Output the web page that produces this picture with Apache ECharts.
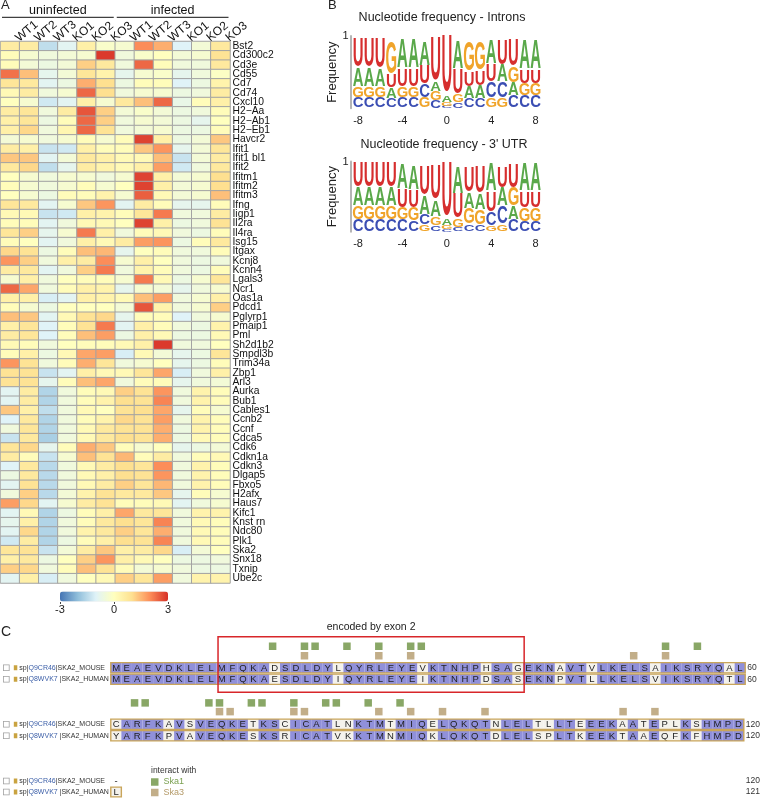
<!DOCTYPE html>
<html><head><meta charset="utf-8">
<script src="https://cdn.jsdelivr.net/npm/echarts@6/dist/echarts.min.js"></script>
<style>html,body{margin:0;padding:0;background:#fff}#c{width:763px;height:798px}</style>
</head><body><div id="c"></div>
<script>
// ---------- Panel A data ----------
const samples = ['WT1','WT2','WT3','KO1','KO2','KO3','WT1','WT2','WT3','KO1','KO2','KO3'];
const groups = [{name:'uninfected', from:0, to:5}, {name:'infected', from:6, to:11}];
const genes = ['Bst2','Cd300c2','Cd3e','Cd55','Cd7','Cd74','Cxcl10','H2\u2212Aa','H2\u2212Ab1','H2\u2212Eb1','Havcr2','Ifit1','Ifit1 bl1','Ifit2','Ifitm1','Ifitm2','Ifitm3','Ifng','Iigp1','Il2ra','Il4ra','Isg15','Itgax','Kcnj8','Kcnn4','Lgals3','Ncr1','Oas1a','Pdcd1','Pglyrp1','Pmaip1','Pml','Sh2d1b2','Smpdl3b','Trim34a','Zbp1','Arl3','Aurka','Bub1','Cables1','Ccnb2','Ccnf','Cdca5','Cdk6','Cdkn1a','Cdkn3','Dlgap5','Fbxo5','H2afx','Haus7','Kifc1','Knst rn','Ndc80','Plk1','Ska2','Snx18','Txnip','Ube2c'];
const zscores = [
 [0.6,0.6,-1.4,-0.9,0.5,-0.2,-0.3,2.0,1.6,-1.0,-0.4,0.7],
 [0.1,-0.3,-0.5,-0.4,-0.3,2.9,-0.5,-0.2,0.0,-0.4,-0.3,0.9],
 [0.1,-0.4,-0.6,-0.4,1.2,0.7,-0.5,2.4,0.1,-0.5,-0.5,0.7],
 [2.3,1.4,-0.8,-0.4,0.8,0.4,-0.8,-0.3,-0.2,-0.8,-0.5,-0.1],
 [0.8,0.7,-0.9,-0.6,1.6,1.0,-0.6,0.1,0.1,-1.0,-0.6,0.4],
 [0.2,0.6,-0.5,-0.3,2.4,1.0,-0.5,-0.3,-0.3,-0.6,-0.5,0.6],
 [0.0,-0.3,-1.2,-0.9,0.5,-0.3,0.7,1.4,2.4,-0.7,0.1,0.5],
 [0.6,0.8,-0.5,0.6,2.6,1.2,-0.4,-0.2,-0.4,-0.6,-0.5,0.1],
 [0.5,0.8,-0.6,0.1,2.4,1.2,-0.5,-0.3,-0.4,-0.6,-0.8,0.0],
 [0.5,1.1,-0.5,0.3,2.4,0.9,-0.5,-0.4,-0.3,-0.6,-0.6,0.1],
 [-0.4,-0.3,-0.5,-0.3,0.1,-0.3,0.1,2.8,0.5,-0.6,-0.4,1.3],
 [0.6,0.5,-1.3,-1.2,0.5,0.1,0.1,1.3,1.9,-0.8,-0.4,0.8],
 [1.3,1.3,-0.9,-0.4,0.7,0.5,0.2,0.2,1.4,-1.3,-0.4,0.6],
 [0.7,1.1,-1.4,-0.8,0.6,0.4,0.2,0.5,1.8,-1.2,-0.5,0.7],
 [0.0,-0.3,-0.5,-0.3,-0.3,-0.5,-0.3,2.8,0.5,-0.4,-0.3,1.0],
 [0.1,-0.3,-0.5,-0.3,0.1,-0.3,0.0,2.8,0.5,-0.4,-0.3,1.0],
 [0.0,-0.3,-0.6,0.1,0.1,0.4,-0.3,2.5,0.2,-0.4,-0.3,1.4],
 [0.8,0.7,-0.9,-0.3,1.3,1.9,-0.9,0.6,0.1,-0.8,-0.8,0.1],
 [0.2,0.2,-1.3,-1.2,0.5,0.4,0.1,0.8,2.2,-0.5,-0.5,0.6],
 [0.1,0.1,-0.9,-0.5,0.2,0.2,0.0,2.8,0.5,-0.6,-0.5,0.9],
 [0.8,1.2,-0.8,-0.3,2.2,0.5,-0.5,0.1,0.2,-0.5,-0.6,0.1],
 [0.1,0.0,-0.9,-0.5,0.5,0.2,0.6,1.8,1.9,-0.6,0.1,0.7],
 [1.1,0.9,-0.6,0.1,1.4,1.5,-0.8,0.0,0.1,-0.5,-0.5,0.1],
 [1.9,1.2,-0.5,0.5,0.6,2.0,-0.3,0.5,0.0,-0.5,-0.6,-0.5],
 [0.6,0.7,-0.9,-0.5,1.2,2.2,-0.5,0.4,0.1,-0.5,-0.6,0.1],
 [-0.3,0.5,-0.5,0.0,0.1,0.1,-0.3,2.2,0.2,-0.6,-0.3,0.8],
 [2.4,1.7,-0.5,0.1,0.5,0.4,-0.8,-0.3,-0.4,-0.8,-0.5,-0.3],
 [0.5,0.5,-1.1,-0.9,0.5,0.4,0.2,1.4,1.8,-0.5,-0.3,0.5],
 [0.1,-0.3,-0.6,0.0,0.0,0.0,-0.4,2.6,0.4,-0.5,-0.3,1.2],
 [1.4,1.3,-0.9,0.2,0.9,1.1,-0.8,0.1,0.1,-1.0,-0.5,-0.3],
 [0.5,0.8,-1.0,0.1,0.9,2.2,-0.9,0.5,0.1,-0.5,-0.6,0.4],
 [0.6,0.8,-1.0,0.1,1.4,1.8,-0.6,0.5,0.2,-0.6,-0.6,0.2],
 [0.2,0.1,-0.5,0.0,0.1,0.1,0.2,0.5,2.9,-0.5,-0.5,0.0],
 [0.1,0.5,-0.6,0.2,1.7,1.8,-1.1,0.2,-0.4,-0.8,-0.6,0.8],
 [1.9,0.9,-0.5,0.1,1.6,0.8,-0.5,-0.3,0.0,-0.8,-0.6,0.1],
 [0.9,0.9,-1.3,-0.9,0.5,0.2,0.2,0.8,1.7,-1.1,-0.5,0.5],
 [0.9,0.9,-0.8,0.1,1.4,1.7,-0.5,0.1,0.1,-0.8,-0.5,-0.4],
 [-0.9,0.6,-1.6,-0.5,0.1,0.2,1.2,0.9,1.9,-0.5,0.4,0.1],
 [-0.9,0.6,-1.6,-0.5,0.1,0.4,1.0,0.9,2.1,-0.5,0.4,0.1],
 [1.3,0.5,-1.4,-0.5,0.2,0.0,0.9,1.0,1.7,-0.8,0.1,-0.3],
 [-1.0,0.7,-1.6,-0.5,0.1,0.4,1.1,0.9,1.8,-0.5,0.4,0.1],
 [-0.5,0.8,-1.6,-0.5,0.2,0.7,0.9,0.9,1.6,-0.6,0.4,0.1],
 [-1.3,0.7,-1.7,-0.5,0.2,0.7,1.0,0.9,1.6,-0.6,0.2,0.1],
 [0.8,1.1,-0.8,0.1,1.6,1.3,0.1,-0.3,0.0,-0.8,-0.6,-0.4],
 [0.6,0.1,-1.3,-0.3,1.4,0.9,1.5,0.1,0.6,-0.5,0.1,0.2],
 [-1.0,0.7,-1.5,-0.5,0.2,0.6,1.0,0.8,2.0,-0.5,0.4,0.1],
 [-0.6,0.7,-1.5,-0.5,0.2,0.5,1.0,0.9,1.9,-0.5,0.4,0.1],
 [-0.9,0.9,-1.5,-0.5,0.2,0.6,1.2,0.8,1.5,-0.5,0.4,0.1],
 [-0.5,1.2,-1.5,-0.4,0.4,0.9,0.7,0.7,1.3,-0.8,0.1,-0.3],
 [1.8,1.1,-0.9,-0.3,0.6,0.9,0.1,0.1,0.2,-0.9,-0.5,-0.3],
 [-0.9,0.2,-1.6,-0.6,0.1,0.5,1.7,0.7,0.8,-0.5,0.4,0.4],
 [-0.8,0.5,-1.6,-0.5,0.1,0.7,1.0,0.8,2.1,-0.5,0.2,0.1],
 [-0.9,1.1,-1.6,-0.5,0.4,0.7,1.2,0.8,1.6,-0.5,0.2,0.1],
 [-1.2,0.6,-1.6,-0.6,0.1,0.5,1.0,0.9,2.1,-0.5,0.2,0.1],
 [0.8,0.9,-1.3,-0.4,0.6,1.3,0.5,0.6,1.1,-1.1,-0.4,0.0],
 [0.5,0.7,-0.6,0.0,1.2,1.9,0.5,0.2,0.0,-0.6,-0.6,-0.5],
 [1.2,1.1,-0.5,0.1,1.4,0.9,0.1,-0.4,-0.3,-0.5,-0.6,-0.6],
 [-0.9,0.5,-1.1,-0.5,0.0,0.2,1.2,0.8,1.8,-0.5,0.4,0.4]
];
const colorTicks = [-3, 0, 3];

// ---------- Panel B data ----------
const logoPositions = ['-8','-7','-6','-5','-4','-3','-2','-1','0','1','2','3','4','5','6','7','8'];
const intronU = [.41,.41,.42,.18,.24,.24,.25,.60,.78,.34,.20,.20,.24,.34,.36,.19,.19];
const intronA = [.25,.25,.24,.14,.40,.40,.33,.13,.09,.38,.17,.18,.33,.23,.18,.40,.40];
const intronG = [.15,.15,.15,.44,.15,.15,.14,.12,.05,.10,.40,.38,.13,.13,.22,.17,.17];
const intronC = [.14,.14,.14,.13,.14,.14,.18,.10,.03,.08,.12,.12,.22,.22,.16,.16,.16];
const utrU = [.36,.36,.36,.36,.26,.24,.42,.49,.77,.35,.35,.37,.28,.30,.33,.23,.23];
const utrA = [.26,.26,.26,.26,.36,.34,.26,.23,.10,.37,.23,.23,.40,.26,.19,.40,.40];
const utrG = [.19,.19,.19,.19,.17,.18,.09,.12,.05,.12,.22,.21,.08,.10,.26,.19,.19];
const utrC = [.16,.16,.16,.16,.16,.15,.14,.08,.03,.05,.10,.09,.19,.25,.16,.14,.14];

// ---------- Panel C data ----------
const seqNames = [['sp|','Q9CR46','|SKA2_MOUSE'], ['sp|','Q8WVK7',' |SKA2_HUMAN']];
const mouseSeq1 = 'MEAEVDKLELMFQKADSDLDYLQYRLEYEVKTNHPHSAGEKNAVTVLKELSAIKSRYQAL';
const humanSeq1 = 'MEAEVDKLELMFQKAESDLDYIQYRLEYEIKTNHPDSASEKNPVTLLKELSVIKSRYQTL';
const mouseSeq2 = 'CARFKAVSVEQKETKSCICATLNKTMTMIQELQKQTNLELTLLTEEEKAATEPLKSHMPD';
const humanSeq2 = 'YARFKPVAVEQKESKSRICATVKKTMNMIQKLQKQTDLELSPLTKEEKTAAEQFKFHMPD';
const mouseSeq3 = '-';
const humanSeq3 = 'L';
const endNum1 = ['60','60'];
const endNum2 = ['120','120'];
const endNum3 = ['120','121'];
const ska1Block1 = [15,18,19,22,25,28,29,52,55];
const ska3Block1 = [18,25,28,49,52];
const ska1Block2 = [2,3,9,10,13,14,17,20,21,24,27];
const ska3Block2 = [10,11,17,18,25,28,31,35,48,51];
const exon2Range = [10, 38];

// ---------- styles ----------
const FONT = "'Liberation Sans', Arial, Helvetica, sans-serif";
const LOGO_COL = {U:'#d62e2e', A:'#5aa84a', G:'#f0a42a', C:'#3b4eb3'};
const PURPLE = '#9090da', PALE = '#f4f2ec', TAN = '#c9a55a';
const GREEN_M = '#6c9140', TAN_M = '#b39a6c';
const positions = Array.from({length:60}, (_, i) => String(i + 1));
const SEQ_LEFT = 108, SEQ_W = 60 * 10.62;

const heatData = [];
zscores.forEach((row, r) => row.forEach((v, c) => heatData.push([c, r, v])));

function logoItems(U, A, G, C) {
  const items = [];
  for (let i = 0; i < U.length; i++) {
    const arr = [{l:'C', v:C[i]}, {l:'G', v:G[i]}, {l:'A', v:A[i]}, {l:'U', v:U[i]}];
    arr.sort((p, q) => p.v - q.v);
    let y = 0;
    arr.forEach(e => { items.push({value:[i, y, y + e.v], l:e.l}); y += e.v; });
  }
  return items;
}
function logoRender(items) {
  return function (params, api) {
    const it = items[params.dataIndex];
    const x = api.value(0);
    const pb = api.coord([x, api.value(1)]);
    const pt = api.coord([x, api.value(2)]);
    const bw = api.size([1, 0])[0];
    const F = 20;
    const h = pb[1] - pt[1];
    return {type:'text', x: pb[0], y: (pb[1] + pt[1]) / 2 + 0.2 * h / (0.716 * F),
      scaleX: bw * 0.94 / (0.70 * F), scaleY: h / (0.716 * F),
      style: {text: it.l, font: 'bold ' + F + 'px ' + FONT, fill: LOGO_COL[it.l], align:'center', verticalAlign:'middle'}};
  };
}
function residueItems(m, h) {
  const out = [];
  for (let i = 0; i < m.length; i++) {
    out.push({value:[i, 0], ch:m[i], match:m[i] === h[i]});
    out.push({value:[i, 1], ch:h[i], match:m[i] === h[i]});
  }
  return out;
}
function residueRender(items) {
  return function (params, api) {
    const it = items[params.dataIndex];
    const p = api.coord([api.value(0), api.value(1)]);
    const s = api.size([1, 1]);
    const ch = [];
    if (it.ch !== '-') ch.push({type:'rect', shape:{x:p[0] - s[0] / 2, y:p[1] - s[1] / 2 + 0.5, width:s[0], height:s[1] - 1}, style:{fill: it.match ? PURPLE : PALE}});
    ch.push({type:'text', x:p[0], y:p[1] + 0.5, style:{text:it.ch, font:'9.5px ' + FONT, fill:'#1e1e1e', align:'center', verticalAlign:'middle'}});
    return {type:'group', children:ch};
  };
}
function outlineRender(params, api) {
  const a = api.value(0), r = api.value(1), b = api.value(2);
  const p0 = api.coord([a, r]), p1 = api.coord([b, r]);
  const s = api.size([1, 1]);
  return {type:'rect', shape:{x:p0[0] - s[0] / 2, y:p0[1] - s[1] / 2 + 0.6, width:p1[0] - p0[0] + s[0], height:s[1] - 1.2},
    style:{fill:null, stroke:TAN, lineWidth:1.4}};
}
const blk1 = residueItems(mouseSeq1, humanSeq1);
const blk2 = residueItems(mouseSeq2, humanSeq2);
const blk3 = residueItems(mouseSeq3, humanSeq3);
const intronItems = logoItems(intronU, intronA, intronG, intronC);
const utrItems = logoItems(utrU, utrA, utrG, utrC);

const nameRich = {
  cb:{width:5, height:5, borderColor:'#a0a0a0', borderWidth:0.8, backgroundColor:'#fff'},
  g1:{width:5}, ic:{width:3.5, height:5, backgroundColor:'#c9a340'}, g2:{width:2},
  t:{fontSize:7, color:'#333', fontFamily:FONT}, id:{fontSize:7, color:'#3c5fa8', fontFamily:FONT}
};
function nameFmt(v, i) { const n = seqNames[i]; return '{cb|}{g1|}{ic|}{g2|}{t|' + n[0] + '}{id|' + n[1] + '}{t|' + n[2] + '}'; }

function seqX(gi) { return {type:'category', gridIndex:gi, data:positions, show:false}; }
function seqNameY(gi) { return {type:'category', gridIndex:gi, inverse:true, data:['m','h'], position:'left',
  axisLine:{show:false}, axisTick:{show:false}, axisLabel:{interval:0, hideOverlap:false, align:'left', margin:107, formatter:nameFmt, rich:nameRich}}; }
function seqNumY(gi, nums) { return {type:'category', gridIndex:gi, inverse:true, data:nums, position:'right',
  axisLine:{show:false}, axisTick:{show:false}, axisLabel:{interval:0, hideOverlap:false, margin:2, fontSize:8.5, color:'#333'}}; }
function logoX(gi) { return {type:'category', gridIndex:gi, data:logoPositions, axisLine:{show:false}, axisTick:{show:false},
  axisLabel:{interval:3, fontSize:11, color:'#222', margin:7}}; }
function logoY(gi) { return {type:'value', gridIndex:gi, min:0, max:1, interval:1, offset:2, splitLine:{show:false},
  axisLine:{show:true, lineStyle:{color:'#b5b5b5', width:2}}, axisTick:{show:false},
  axisLabel:{fontSize:11, color:'#222', margin:2, formatter:v => v === 1 ? '1' : ''},
  name:'Frequency', nameLocation:'middle', nameGap:6, nameTextStyle:{fontSize:13, color:'#222'}}; }

const option = {
  animation:false,
  textStyle:{fontFamily:FONT},
  title:[
    {text:'A', left:1, top:-1, padding:0, textStyle:{fontSize:13, fontWeight:'normal', color:'#222'}},
    {text:'B', left:328, top:-1, padding:0, textStyle:{fontSize:13, fontWeight:'normal', color:'#222'}},
    {text:'C', left:1, top:625, padding:0, textStyle:{fontSize:14, fontWeight:'normal', color:'#222'}},
    {text:'Nucleotide frequency - Introns', left:442, top:11, padding:0, textAlign:'center', textStyle:{fontSize:12.5, fontWeight:'normal', color:'#222'}},
    {text:"Nucleotide frequency - 3' UTR", left:444, top:138, padding:0, textAlign:'center', textStyle:{fontSize:12.5, fontWeight:'normal', color:'#222'}},
    {text:'interact with', left:151, top:766, padding:0, textStyle:{fontSize:8.5, fontWeight:'normal', color:'#333'}}
  ],
  legend:[
    {left:151, top:777.5, padding:0, itemWidth:7.5, itemHeight:7.5, icon:'rect', selectedMode:false,
      textStyle:{fontSize:9, color:'#7aa050'}, data:['Ska1']},
    {left:151, top:788, padding:0, itemWidth:7.5, itemHeight:7.5, icon:'rect', selectedMode:false,
      textStyle:{fontSize:9, color:'#b49a68'}, data:['Ska3']}
  ],
  visualMap:{type:'continuous', seriesIndex:0, dimension:2, min:-3, max:3, calculable:false, orient:'horizontal',
    left:60, top:591.5, itemWidth:10, itemHeight:108, padding:0, hoverLink:false,
    inRange:{color:['#4575B4','#91BFDB','#E0F3F8','#FFFFBF','#FEE090','#FC8D59','#D73027']}},
  grid:[
    {left:0.5, top:41.5, width:229.5, height:541.5},
    {left:7.5, top:41.5, width:229.5, height:1},
    {left:60, top:592, width:108, height:10},
    {left:352.5, top:36, width:188.7, height:72.3},
    {left:352.5, top:161.5, width:188.7, height:70.3},
    {left:SEQ_LEFT, top:641.5, width:SEQ_W, height:19},
    {left:SEQ_LEFT, top:662, width:SEQ_W, height:23},
    {left:SEQ_LEFT, top:698.5, width:SEQ_W, height:17.5},
    {left:SEQ_LEFT, top:718.5, width:SEQ_W, height:23},
    {left:SEQ_LEFT, top:775.5, width:SEQ_W, height:22}
  ],
  xAxis:[
    {type:'category', gridIndex:0, data:samples, show:false},
    {type:'category', gridIndex:1, data:samples, position:'top', axisLine:{show:false}, axisTick:{show:false},
      axisLabel:{interval:0, rotate:-40, fontSize:12, color:'#111', margin:2}},
    {type:'value', gridIndex:2, min:-3, max:3, interval:3, splitLine:{show:false}, axisLine:{show:false},
      axisTick:{show:true, length:2, lineStyle:{color:'#444'}}, axisLabel:{fontSize:11, color:'#222', margin:2,
      formatter:v => colorTicks.indexOf(v) >= 0 ? String(v) : ''}},
    logoX(3), logoX(4),
    seqX(5), seqX(6), seqX(7), seqX(8), seqX(9)
  ],
  yAxis:[
    {type:'category', gridIndex:0, data:genes, inverse:true, position:'right', axisLine:{show:false}, axisTick:{show:false},
      axisLabel:{interval:0, fontSize:10.3, color:'#111', margin:2.5}},
    {type:'category', gridIndex:1, data:[''], show:false},
    {type:'value', gridIndex:2, show:false},
    logoY(3), logoY(4),
    {type:'category', gridIndex:5, inverse:true, data:['Ska1','Ska3'], show:false},
    seqNameY(6), seqNumY(6, endNum1),
    {type:'category', gridIndex:7, inverse:true, data:['Ska1','Ska3'], show:false},
    seqNameY(8), seqNumY(8, endNum2),
    seqNameY(9), seqNumY(9, endNum3)
  ],
  series:[
    {type:'heatmap', xAxisIndex:0, yAxisIndex:0, data:heatData,
      itemStyle:{borderColor:'#a3a3a3', borderWidth:1}, emphasis:{disabled:true}},
    {type:'custom', xAxisIndex:0, yAxisIndex:0, data:groups.map(g => [g.from, 0, g.to]), silent:true,
      renderItem:function (params, api) {
        const a = api.value(0), b = api.value(2);
        const bw = api.size([1, 0])[0];
        const cs = params.coordSys;
        const l = api.coord([a, 0])[0] - bw / 2 + 1.5, r = api.coord([b, 0])[0] + bw / 2 - 1.5;
        return {type:'group', children:[
          {type:'line', shape:{x1:l, y1:cs.y - 24.2, x2:r, y2:cs.y - 24.2}, style:{stroke:'#111', lineWidth:1}},
          {type:'text', x:(l + r) / 2, y:cs.y - 30.5, style:{text:groups[params.dataIndex].name, font:'12.5px ' + FONT, fill:'#111', align:'center', verticalAlign:'middle'}}
        ]};
      }},
    {type:'line', xAxisIndex:2, yAxisIndex:2, data:[]},
    {type:'custom', xAxisIndex:3, yAxisIndex:3, data:intronItems, renderItem:logoRender(intronItems), silent:true},
    {type:'custom', xAxisIndex:4, yAxisIndex:4, data:utrItems, renderItem:logoRender(utrItems), silent:true},
    {name:'Ska1', type:'scatter', xAxisIndex:5, yAxisIndex:5, symbol:'rect', symbolSize:7.5, itemStyle:{color:GREEN_M}, data:ska1Block1.map(i => [i, 0]), silent:true},
    {name:'Ska3', type:'scatter', xAxisIndex:5, yAxisIndex:5, symbol:'rect', symbolSize:7.5, itemStyle:{color:TAN_M}, data:ska3Block1.map(i => [i, 1]), silent:true},
    {type:'custom', xAxisIndex:6, yAxisIndex:6, data:blk1, renderItem:residueRender(blk1), silent:true},
    {type:'custom', xAxisIndex:6, yAxisIndex:6, data:[[0, 0, 59], [0, 1, 59]], renderItem:outlineRender, silent:true, z:3},
    {type:'custom', xAxisIndex:6, yAxisIndex:6, data:[[exon2Range[0], 0, exon2Range[1]]], silent:true, z:4,
      renderItem:function (params, api) {
        const a = api.value(0), b = api.value(2);
        const bw = api.size([1, 0])[0];
        const cs = params.coordSys;
        const l = api.coord([a, 0])[0] - bw / 2 + 1.5, r = api.coord([b, 0])[0] + bw / 2 + 1;
        const t = cs.y - 25.3, btm = cs.y + cs.height + 7.3;
        return {type:'group', children:[
          {type:'rect', shape:{x:l, y:t, width:r - l, height:btm - t}, style:{fill:null, stroke:'#d8262a', lineWidth:1.5}},
          {type:'text', x:(l + r) / 2, y:t - 10, style:{text:'encoded by exon 2', font:'10.5px ' + FONT, fill:'#222', align:'center', verticalAlign:'middle'}}
        ]};
      }},
    {name:'Ska1', type:'scatter', xAxisIndex:7, yAxisIndex:8, symbol:'rect', symbolSize:7.5, itemStyle:{color:GREEN_M}, data:ska1Block2.map(i => [i, 0]), silent:true},
    {name:'Ska3', type:'scatter', xAxisIndex:7, yAxisIndex:8, symbol:'rect', symbolSize:7.5, itemStyle:{color:TAN_M}, data:ska3Block2.map(i => [i, 1]), silent:true},
    {type:'custom', xAxisIndex:8, yAxisIndex:9, data:blk2, renderItem:residueRender(blk2), silent:true},
    {type:'custom', xAxisIndex:8, yAxisIndex:9, data:[[0, 0, 59], [0, 1, 59]], renderItem:outlineRender, silent:true, z:3},
    {type:'custom', xAxisIndex:9, yAxisIndex:11, data:blk3, renderItem:residueRender(blk3), silent:true},
    {type:'custom', xAxisIndex:9, yAxisIndex:11, data:[[0, 1, 0]], renderItem:outlineRender, silent:true, z:3}
  ]
};
const chart = echarts.init(document.getElementById('c'), null, {renderer:'canvas'});
chart.setOption(option);
</script>
</body></html>
